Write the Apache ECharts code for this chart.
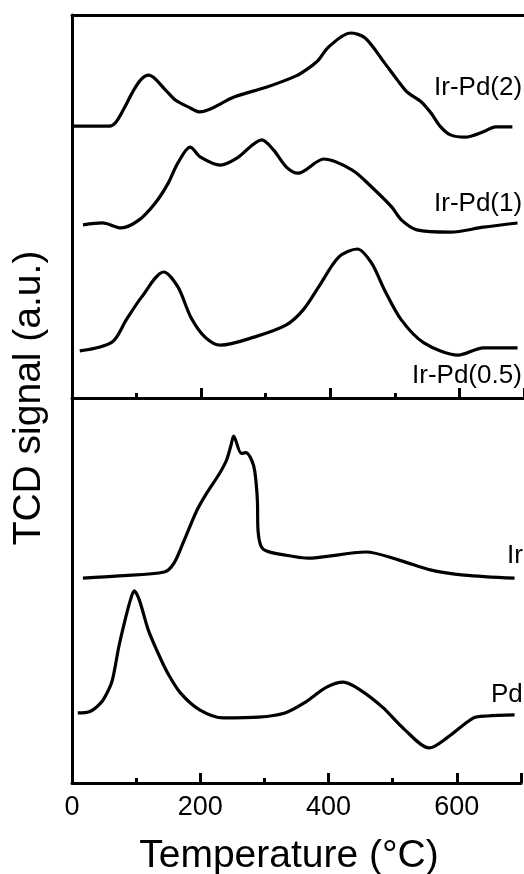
<!DOCTYPE html>
<html>
<head>
<meta charset="utf-8">
<script src="https://cdn.jsdelivr.net/npm/echarts@6/dist/echarts.min.js"></script>
<style>
  html, body { margin: 0; padding: 0; background: #fff; overflow: hidden; }
  #chart { width: 524px; height: 874px; }
</style>
</head>
<body>
<div id="chart"></div>
<script>
// TPR curves (temperature in °C, signal in arbitrary units 0-100 per panel)
const irPd2Temp = [3, 58, 68, 81, 93, 106, 119, 145, 160, 180, 198, 251, 302, 347, 367, 382, 397, 431, 454, 484, 504, 519, 541, 556, 571, 586, 609, 637, 656, 682];
const irPd2Signal = [71.0, 71.0, 72.0, 75.7, 79.6, 83.0, 84.3, 80.4, 77.8, 76.0, 74.7, 78.6, 81.2, 84.1, 86.2, 88.3, 91.6, 95.3, 94.0, 87.5, 83.0, 79.9, 77.3, 74.4, 70.8, 68.7, 68.1, 69.5, 70.8, 70.8];

const irPd1Temp = [17, 47, 76, 104, 129, 149, 164, 183, 199, 230, 256, 294, 312, 332, 350, 390, 434, 464, 495, 510, 534, 586, 637, 690];
const irPd1Signal = [45.2, 45.7, 44.4, 46.5, 50.9, 56.1, 61.4, 65.5, 62.9, 60.8, 62.7, 67.4, 64.8, 60.3, 58.7, 62.4, 59.5, 55.1, 49.9, 46.5, 43.9, 43.3, 44.6, 45.7];

const irPd05Temp = [12, 62, 84, 108, 142, 164, 184, 206, 230, 282, 332, 358, 382, 413, 442, 464, 484, 510, 545, 598, 637, 690];
const irPd05Signal = [12.3, 14.6, 20.4, 26.4, 32.9, 29.0, 21.1, 15.9, 13.8, 15.9, 19.1, 23.0, 29.0, 36.8, 38.9, 35.2, 28.2, 20.4, 14.4, 11.2, 13.1, 13.1];

const irTemp = [17, 73, 144, 159, 175, 195, 210, 230, 241, 248, 252, 264, 271, 280, 285, 289, 290, 295, 306, 347, 367, 458, 510, 560, 611, 690];
const irSignal = [53.2, 53.8, 54.8, 57.1, 63.1, 70.9, 75.3, 80.4, 83.9, 87.8, 90.1, 85.6, 85.8, 83.9, 80.9, 73.5, 65.7, 61.4, 60.1, 58.8, 58.4, 60.0, 57.9, 55.3, 54.0, 53.2];

const pdTemp = [9, 27, 45, 55, 63, 73, 83, 91, 97, 105, 119, 134, 149, 169, 199, 236, 291, 332, 362, 397, 423, 449, 484, 519, 557, 586, 626, 647, 690];
const pdSignal = [18.2, 18.5, 20.8, 23.5, 26.8, 35.4, 42.5, 47.5, 49.9, 47.5, 39.7, 33.8, 28.6, 23.4, 19.0, 16.9, 17.1, 18.2, 20.8, 24.9, 26.2, 24.2, 19.7, 13.8, 9.1, 11.9, 16.9, 17.4, 17.7];

const xTicks = [0, 200, 400, 600];

const FONT = '"Liberation Sans", Arial, sans-serif';

function pairs(t, s) {
  return t.map((x, i) => [x, s[i]]);
}

function curve(t, s, grid) {
  return {
    type: 'line',
    xAxisIndex: grid === 0 ? 0 : 2,
    yAxisIndex: grid,
    data: pairs(t, s),
    showSymbol: false,
    smooth: 0.3,
    silent: true,
    lineStyle: { color: '#000', width: 3.2 }
  };
}

const axisLine = { show: true, lineStyle: { color: '#000', width: 3 } };
const ticks = { show: true, inside: true, length: 10, lineStyle: { color: '#000', width: 3 } };
const minorTicks = { show: true, splitNumber: 2, length: 5, lineStyle: { color: '#000', width: 3 } };

function label(text, x, y, size) {
  return {
    type: 'text',
    x: x,
    y: y,
    silent: true,
    style: { text: text, fill: '#000', fontSize: size, fontFamily: FONT, align: 'left', verticalAlign: 'middle' }
  };
}

const chart = echarts.init(document.getElementById('chart'));
chart.setOption({
  animation: false,
  backgroundColor: '#fff',
  grid: [
    { left: 72, top: 15, width: 460, height: 383 },
    { left: 72, top: 398, width: 460, height: 385 }
  ],
  xAxis: [
    {
      gridIndex: 0, type: 'value', min: 0, max: 700, interval: 200, position: 'bottom',
      axisLine: axisLine, axisTick: ticks, minorTick: minorTicks,
      axisLabel: { show: false }, splitLine: { show: false }, minorSplitLine: { show: false }
    },
    {
      gridIndex: 0, type: 'value', min: 0, max: 700, position: 'top',
      axisLine: axisLine, axisTick: { show: false }, axisLabel: { show: false }, splitLine: { show: false }
    },
    {
      gridIndex: 1, type: 'value', min: 0, max: 700, interval: 200, position: 'bottom',
      axisLine: axisLine, axisTick: ticks, minorTick: minorTicks,
      axisLabel: {
        color: '#000', fontSize: 27, fontFamily: FONT, margin: 11,
        formatter: v => (xTicks.indexOf(v) >= 0 ? String(v) : '')
      },
      splitLine: { show: false }, minorSplitLine: { show: false }
    }
  ],
  yAxis: [
    {
      gridIndex: 0, type: 'value', min: 0, max: 100,
      axisLine: axisLine, axisTick: { show: false }, axisLabel: { show: false }, splitLine: { show: false }
    },
    {
      gridIndex: 1, type: 'value', min: 0, max: 100,
      axisLine: axisLine, axisTick: { show: false }, axisLabel: { show: false }, splitLine: { show: false }
    }
  ],
  graphic: [
    {
      type: 'text', x: 289, y: 856, silent: true,
      style: { text: 'Temperature (°C)', fill: '#000', fontSize: 39, fontFamily: FONT, align: 'center', verticalAlign: 'middle' }
    },
    {
      type: 'text', x: 29, y: 398, rotation: Math.PI / 2, silent: true,
      style: { text: 'TCD signal (a.u.)', fill: '#000', fontSize: 39, fontFamily: FONT, align: 'center', verticalAlign: 'middle' }
    },
    label('Ir-Pd(2)', 434, 88, 26),
    label('Ir-Pd(1)', 434, 204, 26),
    label('Ir-Pd(0.5)', 412, 376, 26),
    label('Ir', 507, 556, 26),
    label('Pd', 491, 695, 26)
  ],
  series: [
    curve(irPd2Temp, irPd2Signal, 0),
    curve(irPd1Temp, irPd1Signal, 0),
    curve(irPd05Temp, irPd05Signal, 0),
    curve(irTemp, irSignal, 1),
    curve(pdTemp, pdSignal, 1)
  ]
});
window.addEventListener('resize', () => chart.resize());
</script>
</body>
</html>
